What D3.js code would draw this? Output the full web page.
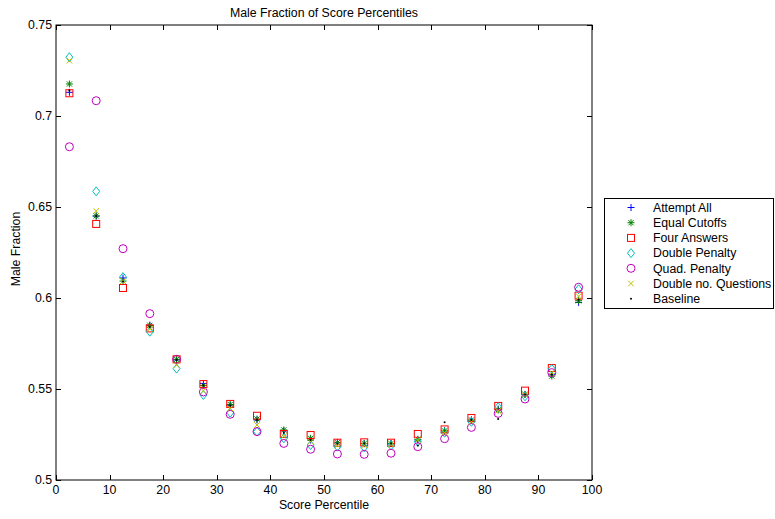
<!DOCTYPE html>
<html>
<head>
<meta charset="utf-8">
<script src="https://cdn.jsdelivr.net/npm/d3@7"></script>
<style>
  html, body { margin: 0; padding: 0; background: #fff; }
  svg { display: block; font-family: "Liberation Sans", Arial, Helvetica, sans-serif; }
</style>
</head>
<body>
<svg id="chart" width="775" height="519"></svg>
<script>
// Percentile bin centres (5-point bins)
const percentiles = [2.5, 7.5, 12.5, 17.5, 22.5, 27.5, 32.5, 37.5, 42.5, 47.5,
                     52.5, 57.5, 62.5, 67.5, 72.5, 77.5, 82.5, 87.5, 92.5, 97.5];

const attemptAll = [0.713, 0.645, 0.611, 0.585, 0.566, 0.553, 0.541, 0.533, 0.527, 0.522,
                    0.5205, 0.520, 0.520, 0.522, 0.527, 0.533, 0.539, 0.547, 0.558, 0.5976];
const equalCutoffs = [0.7176, 0.6451, 0.6093, 0.585, 0.5663, 0.552, 0.5415, 0.5335, 0.5275, 0.5229,
                      0.5205, 0.520, 0.520, 0.5224, 0.527, 0.533, 0.5385, 0.547, 0.5571, 0.5985];
const fourAnswers = [0.7125, 0.6407, 0.6055, 0.5833, 0.5663, 0.5527, 0.5418, 0.5353, 0.5253, 0.5247,
                     0.5205, 0.5207, 0.5205, 0.5253, 0.5278, 0.5341, 0.5407, 0.5491, 0.5615, 0.6013];
const doublePenalty = [0.7323, 0.6586, 0.6115, 0.5815, 0.5612, 0.5467, 0.537, 0.5266, 0.5229, 0.5192,
                       0.5183, 0.518, 0.519, 0.521, 0.526, 0.532, 0.540, 0.546, 0.561, 0.6048];
const quadPenalty = [0.6831, 0.7084, 0.6271, 0.5914, 0.5663, 0.5484, 0.5361, 0.5266, 0.5201, 0.5169,
                     0.5143, 0.5141, 0.5147, 0.5183, 0.5227, 0.5289, 0.5366, 0.5445, 0.559, 0.6059];
const doubleQuestions = [0.7304, 0.6478, 0.6093, 0.583, 0.5632, 0.549, 0.5394, 0.5302, 0.524, 0.521,
                         0.519, 0.519, 0.5195, 0.522, 0.526, 0.532, 0.538, 0.547, 0.559, 0.601];
const baseline = [0.714, 0.645, 0.609, 0.584, 0.566, 0.552, 0.541, 0.533, 0.526, 0.522,
                  0.520, 0.520, 0.520, 0.519, 0.5317, 0.533, 0.5335, 0.547, 0.558, 0.599];

const xTicks = [0, 10, 20, 30, 40, 50, 60, 70, 80, 90, 100];
const yTicks = [0.5, 0.55, 0.6, 0.65, 0.7, 0.75];

const seriesNames = ["Attempt All", "Equal Cutoffs", "Four Answers", "Double Penalty",
                     "Quad. Penalty", "Double no. Questions", "Baseline"];
const seriesValues = [attemptAll, equalCutoffs, fourAnswers, doublePenalty,
                      quadPenalty, doubleQuestions, baseline];
const seriesColors = ["#0000ff", "#008000", "#ff0000", "#00bfbf", "#bf00bf", "#bfbf00", "#000000"];
const seriesMarkers = ["plus", "star", "square", "diamond", "circle", "cross", "dot"];

const svg = d3.select("#chart");
const box = { left: 56, right: 592, top: 25, bottom: 480 };
const fontSize = 12.3;

const x = d3.scaleLinear().domain([0, 100]).range([box.left, box.right]);
const y = d3.scaleLinear().domain([0.5, 0.75]).range([box.bottom, box.top]);

// Marker drawing in MATLAB style
function drawMarker(g, type, color) {
  const sw = 1;
  switch (type) {
    case "plus":
      g.append("path").attr("d", "M-3.5,0H3.5M0,-3.5V3.5")
        .attr("stroke", color).attr("stroke-width", sw).attr("fill", "none");
      break;
    case "star":
      g.append("path").attr("d", "M-3.5,0H3.5M0,-3.5V3.5M-2.6,-2.6L2.6,2.6M-2.6,2.6L2.6,-2.6")
        .attr("stroke", color).attr("stroke-width", sw).attr("fill", "none");
      break;
    case "square":
      g.append("rect").attr("x", -3.5).attr("y", -3.5).attr("width", 7).attr("height", 7)
        .attr("stroke", color).attr("stroke-width", sw).attr("fill", "none");
      break;
    case "diamond":
      g.append("path").attr("d", "M0,-4.5L3.5,0L0,4.5L-3.5,0Z")
        .attr("stroke", color).attr("stroke-width", sw).attr("fill", "none");
      break;
    case "circle":
      g.append("circle").attr("r", 4)
        .attr("stroke", color).attr("stroke-width", sw).attr("fill", "none");
      break;
    case "cross":
      g.append("path").attr("d", "M-2.8,-2.8L2.8,2.8M-2.8,2.8L2.8,-2.8")
        .attr("stroke", color).attr("stroke-width", sw).attr("fill", "none");
      break;
    case "dot":
      g.append("circle").attr("r", 1).attr("fill", color);
      break;
  }
}

// Axes box with inward ticks on all four sides
const tickLen = 5;
const axisG = svg.append("g");
axisG.append("rect").attr("x", box.left).attr("y", box.top)
  .attr("width", box.right - box.left).attr("height", box.bottom - box.top)
  .attr("fill", "none").attr("stroke", "#000").attr("stroke-width", 1);

xTicks.forEach(t => {
  const px = Math.round(x(t)) + 0.5;
  axisG.append("line").attr("x1", px).attr("x2", px).attr("y1", box.bottom).attr("y2", box.bottom - tickLen)
    .attr("stroke", "#000");
  axisG.append("line").attr("x1", px).attr("x2", px).attr("y1", box.top).attr("y2", box.top + tickLen)
    .attr("stroke", "#000");
  axisG.append("text").attr("x", x(t)).attr("y", box.bottom + 14).attr("text-anchor", "middle")
    .attr("font-size", fontSize).text(d3.format("d")(t));
});

yTicks.forEach(t => {
  const py = Math.round(y(t)) + 0.5;
  axisG.append("line").attr("x1", box.left).attr("x2", box.left + tickLen).attr("y1", py).attr("y2", py)
    .attr("stroke", "#000");
  axisG.append("line").attr("x1", box.right).attr("x2", box.right - tickLen).attr("y1", py).attr("y2", py)
    .attr("stroke", "#000");
  axisG.append("text").attr("x", box.left - 4).attr("y", y(t) + 4.3).attr("text-anchor", "end")
    .attr("font-size", fontSize).text(String(+t.toFixed(2)));
});

// Titles
svg.append("text").attr("x", (box.left + box.right) / 2).attr("y", 17).attr("text-anchor", "middle")
  .attr("font-size", fontSize).text("Male Fraction of Score Percentiles");
svg.append("text").attr("x", (box.left + box.right) / 2).attr("y", 509).attr("text-anchor", "middle")
  .attr("font-size", fontSize).text("Score Percentile");
svg.append("text").attr("transform", `translate(20,249) rotate(-90)`)
  .attr("text-anchor", "middle").attr("font-size", fontSize).text("Male Fraction");

// Data points
seriesValues.forEach((vals, i) => {
  const g = svg.append("g");
  vals.forEach((v, j) => {
    const mg = g.append("g").attr("transform", `translate(${x(percentiles[j])},${y(v)})`);
    drawMarker(mg, seriesMarkers[i], seriesColors[i]);
  });
});

// Legend
const lg = svg.append("g");
lg.append("rect").attr("x", 604.5).attr("y", 198.5).attr("width", 169).attr("height", 110)
  .attr("fill", "#fff").attr("stroke", "#000");
seriesNames.forEach((name, i) => {
  const ry = 207.5 + i * 15.2;
  const mg = lg.append("g").attr("transform", `translate(631,${ry})`);
  drawMarker(mg, seriesMarkers[i], seriesColors[i]);
  lg.append("text").attr("x", 653).attr("y", ry + 4.3).attr("font-size", fontSize).text(name);
});
</script>
</body>
</html>
